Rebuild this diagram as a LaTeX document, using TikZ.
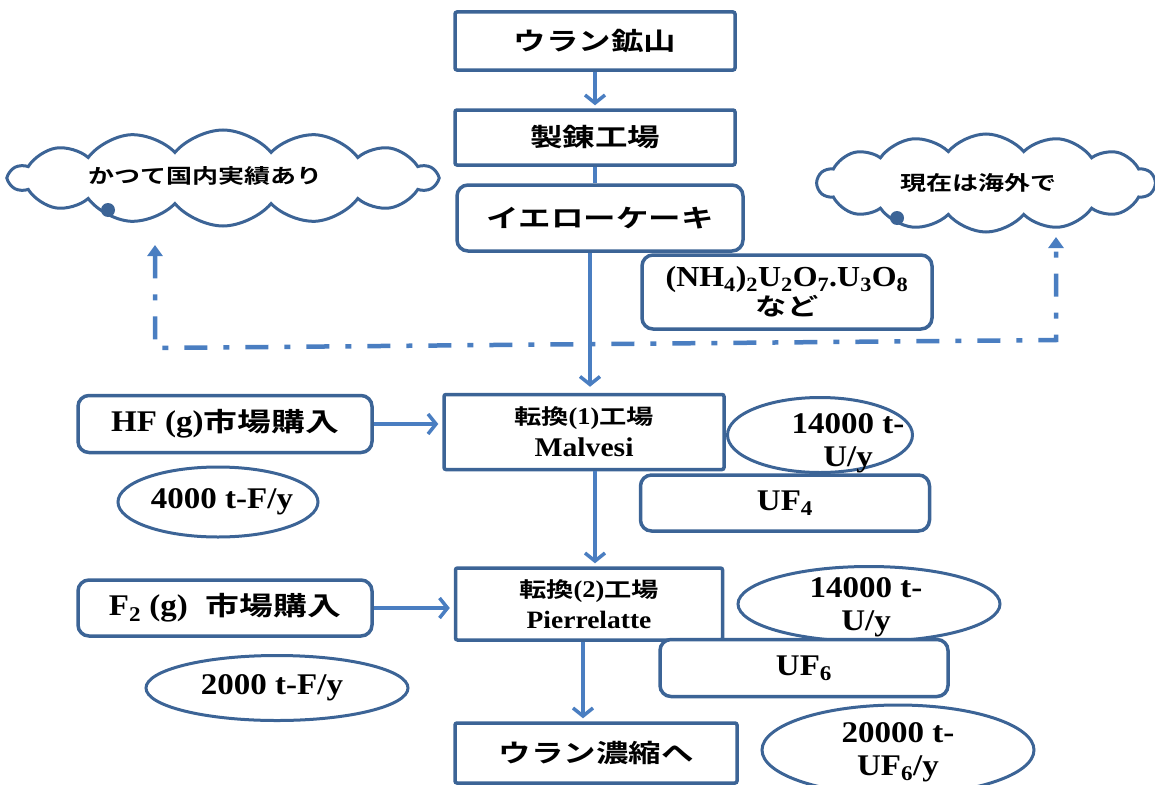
\documentclass[tikz,border=0pt]{standalone}
\usepackage{fontspec}
\setmainfont{Liberation Serif}[FakeStretch=1.1]
\newfontfamily\jpf{Noto Sans CJK JP}[UprightFont=* Bold, BoldFont=* Bold, FakeStretch=1.3]
\newcommand\jpt[1]{{\jpf #1}}
\usetikzlibrary{shapes.geometric,shapes.symbols,arrows.meta}
\definecolor{bdr}{RGB}{60,100,150}
\definecolor{arc}{RGB}{74,126,193}
\begin{document}
\begin{tikzpicture}[x=1pt,y=-1pt,
  every node/.style={font=\bfseries, inner sep=0pt, align=center, text=black},
  sqbox/.style={draw=bdr, line width=3.5pt, fill=white, rounded corners=2pt},
  rdbox/.style={draw=bdr, line width=3.5pt, fill=white, rounded corners=11pt},
  ell/.style={ellipse, draw=bdr, line width=3pt, fill=white},
  cld/.style={cloud, cloud puffs=14, cloud puff arc=100, cloud ignores aspect, draw=bdr, line width=3pt, fill=white},
  cdot/.style={circle, fill=bdr, minimum size=14pt},
  flow/.style={draw=arc, line width=3.5pt, -{Straight Barb[length=8pt,width=20pt]}, shorten >=3pt},
  flowline/.style={draw=arc, line width=3.5pt},
  dd/.style={draw=arc, line width=4.5pt, dash pattern=on 23pt off 16pt on 6pt off 16pt, {Triangle[length=11pt,width=15pt]}-{Triangle[length=11pt,width=15pt]}},
  big/.style={font=\bfseries\fontsize{25}{30}\selectfont},
  cltxt/.style={font=\bfseries\fontsize{20}{24}\selectfont},
  eltxt/.style={font=\bfseries\fontsize{30}{33}\selectfont}
]
\useasboundingbox (0,0) rectangle (1155,784);

% clouds
\node[cld, minimum width=427pt, minimum height=96pt] (cl1) at (223,178) {};
\node[cltxt] (cl1t) at (205,176) {\jpt{かつて国内実績あり}};
\node[cdot] (d1) at (108,210) {};
\node[cld, minimum width=337pt, minimum height=98pt] (cl2) at (986,183) {};
\node[cltxt] (cl2t) at (978,183) {\jpt{現在は海外で}};
\node[cdot] (d2) at (897,218) {};

% dash-dot return path
\coordinate (lt) at (155,245);
\coordinate (lb) at (155,348);
\coordinate (rb) at (1056,340);
\coordinate (rt) at (1056,237);
\draw[dd] (lt) -- (lb) -- (rb) -- (rt);

% main chain
\node[sqbox, big, minimum width=280pt, minimum height=58pt] (mine) at (595,41) {\jpt{ウラン鉱山}};
\node[sqbox, big, minimum width=280pt, minimum height=55pt] (refine) at (595,137.5) {\jpt{製錬工場}};
\node[rdbox, big, minimum width=286pt, minimum height=66pt] (yc) at (600,218) {\jpt{イエローケーキ}};
\node[rdbox, font=\bfseries\fontsize{29}{32}\selectfont, minimum width=290pt, minimum height=74pt] (nh) at (787,292)
  {(NH\textsubscript{4})\textsubscript{2}U\textsubscript{2}O\textsubscript{7}.U\textsubscript{3}O\textsubscript{8}\\[-3pt]{\fontsize{24}{28}\selectfont\jpt{など}}};

\node[sqbox, minimum width=280pt, minimum height=75pt] (c1) at (584,432)
  {{\fontsize{21}{24}\selectfont\jpt{転換}{\fontsize{24}{24}\selectfont(1)}\jpt{工場}}\\[7pt]{\fontsize{27}{30}\selectfont Malvesi}};
\node[sqbox, minimum width=267pt, minimum height=72pt] (c2) at (589,604)
  {{\fontsize{21}{24}\selectfont\jpt{転換}{\fontsize{24}{24}\selectfont(2)}\jpt{工場}}\\[7pt]{\fontsize{25}{28}\selectfont Pierrelatte}};
\node[sqbox, big, minimum width=282pt, minimum height=60pt] (enr) at (596,753) {\jpt{ウラン濃縮へ}};

% inputs
\node[rdbox, minimum width=294pt, minimum height=57pt] (hf) at (225,424)
  {{\fontsize{30}{32}\selectfont HF (g)}{\fontsize{26}{30}\selectfont\jpt{市場購入}}};
\node[rdbox, minimum width=294pt, minimum height=56pt] (f2) at (225,608)
  {{\fontsize{30}{32}\selectfont F\textsubscript{2} (g)\hspace{18pt}}{\fontsize{26}{30}\selectfont\jpt{市場購入}}};

% ellipses
\node[ell, minimum width=185pt, minimum height=75pt] (e1) at (820,435) {};
\node[eltxt] (e1t) at (848,443) {14000 t-\\U/y};
\node[ell, minimum width=200pt, minimum height=70pt] (e4) at (218,502) {};
\node[eltxt] (e4t) at (222,502) {4000 t-F/y};
\node[ell, minimum width=262pt, minimum height=75pt] (e2) at (869,604) {};
\node[eltxt] (e2t) at (866,607) {14000 t-\\U/y};
\node[ell, minimum width=262pt, minimum height=65pt] (e5) at (277,688) {};
\node[eltxt] (e5t) at (272,688) {2000 t-F/y};
\node[ell, minimum width=272pt, minimum height=90pt] (e3) at (898,750) {};
\node[eltxt] (e3t) at (898,752) {20000 t-\\UF\textsubscript{6}/y};

% product boxes
\node[rdbox, eltxt, minimum width=289pt, minimum height=56pt] (uf4) at (785,503) {UF\textsubscript{4}};
\node[rdbox, eltxt, minimum width=288pt, minimum height=57pt] (uf6) at (804,668) {UF\textsubscript{6}};

% connectors
\draw[flow] (mine) -- (refine);
\draw[flowline] (refine.south) -- (refine.south |- yc.north);
\draw[flow, shorten >=6pt] ([xshift=-10pt]yc.south) -- ([xshift=-10pt]yc.south |- c1.north);
\draw[flow, shorten >=4pt] (hf.east) -- (hf.east -| c1.west);
\draw[flow] ([xshift=11pt]c1.south) -- ([xshift=11pt]c1.south |- c2.north);
\draw[flow, shorten >=4pt] (f2.east) -- (f2.east -| c2.west);
\draw[flow] ([xshift=-6pt]c2.south) -- ([xshift=-6pt]c2.south |- enr.north);
\end{tikzpicture}
\end{document}
